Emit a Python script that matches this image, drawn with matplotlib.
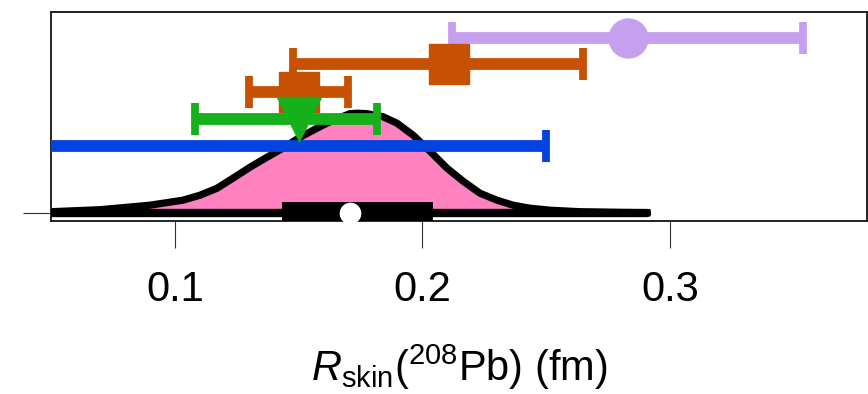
import matplotlib
matplotlib.use("Agg")
import matplotlib.pyplot as plt

plt.rcParams["font.family"] = ["Liberation Sans", "DejaVu Sans"]
plt.rcParams["mathtext.fontset"] = "custom"
plt.rcParams["mathtext.rm"] = "Liberation Sans"
plt.rcParams["mathtext.it"] = "Liberation Sans:italic"

# posterior density of the skin thickness (upper half of a violin)
dens_x = [0.030, 0.0499, 0.0697, 0.0899, 0.1032, 0.1101, 0.1170, 0.1234, 0.1303,
          0.1372, 0.1436, 0.1505, 0.1574, 0.1638, 0.1707, 0.1739, 0.1776, 0.1840,
          0.1897, 0.1962, 0.2030, 0.2099, 0.2164, 0.2232, 0.2301, 0.2366, 0.2434,
          0.2515, 0.2636, 0.2798, 0.2907]
dens_h = [0.0, 0.01, 0.03, 0.075, 0.125, 0.175, 0.245, 0.345, 0.455,
          0.555, 0.645, 0.755, 0.845, 0.925, 0.99, 0.995, 0.99, 0.96,
          0.895, 0.775, 0.615, 0.445, 0.315, 0.195, 0.125, 0.075, 0.045,
          0.025, 0.01, 0.003, 0.0]

# summary of the same posterior
median = 0.1707
q_lo, q_hi = 0.1434, 0.2041
whisk_lo, whisk_hi = 0.030, 0.2907

# measurements: row height, central value, lower, upper
blue_row, blue_lo, blue_hi = 0.667, -0.05, 0.250
green_row, green_val, green_lo, green_hi = 0.932, 0.150, 0.108, 0.1817
orange2_row, orange2_val, orange2_lo, orange2_hi = 1.208, 0.150, 0.1299, 0.170
orange1_row, orange1_val, orange1_lo, orange1_hi = 1.485, 0.2108, 0.1478, 0.2647
purple_row, purple_val, purple_lo, purple_hi = 1.742, 0.283, 0.2118, 0.3539

c_pink = "#ff81c0"
c_blue = "#0343df"
c_green = "#15b01a"
c_orange = "#c65102"
c_purple = "#c79fef"

fig = plt.figure(figsize=(8.68, 3.94), dpi=100)
ax = fig.add_axes([0.0588, 0.4391, 0.94, 0.5305])

ax.fill_between(dens_x, 0, dens_h, color=c_pink, lw=0, zorder=1)
ax.plot(dens_x, dens_h, color="black", lw=5.2, solid_joinstyle="round", zorder=2)
ax.plot([whisk_lo, whisk_hi], [0, 0], color="black", lw=6, solid_capstyle="round", zorder=3)
ax.plot([q_lo, q_hi], [0, 0], color="black", lw=15.8, solid_capstyle="butt", zorder=3)
ax.plot([median], [0], "o", color="white", ms=15.6, mew=0, zorder=4)

eb = dict(elinewidth=8.5, capsize=11.5, capthick=5.6)

ax.errorbar((blue_lo + blue_hi) / 2, blue_row, xerr=(blue_hi - blue_lo) / 2,
            fmt="none", ecolor=c_blue, zorder=5, **eb)
ax.errorbar(purple_val, purple_row,
            xerr=[[purple_val - purple_lo], [purple_hi - purple_val]],
            fmt="o", color=c_purple, ms=28, zorder=6, **eb)
ax.errorbar(orange1_val, orange1_row,
            xerr=[[orange1_val - orange1_lo], [orange1_hi - orange1_val]],
            fmt="s", color=c_orange, ms=29, zorder=7, **eb)
ax.errorbar(orange2_val, orange2_row,
            xerr=[[orange2_val - orange2_lo], [orange2_hi - orange2_val]],
            fmt="s", color=c_orange, ms=29, zorder=8, **eb)
ax.errorbar(green_val, green_row,
            xerr=[[green_val - green_lo], [green_hi - green_val]],
            fmt="v", color=c_green, ms=31, zorder=9, **eb)

ax.set_xlim(0.0499, 0.3796)
ax.set_ylim(-0.083, 2.007)
ax.set_xticks([0.1, 0.2, 0.3])
ax.set_xticklabels(["0.1", "0.2", "0.3"])
ax.set_yticks([0])
ax.set_yticklabels([""])
ax.tick_params(axis="x", direction="out", length=19.5, width=0.8, color="#333333",
               labelsize=30, pad=16)
ax.tick_params(axis="y", direction="out", length=20, width=0.8, color="#333333")
for sp in ax.spines.values():
    sp.set_linewidth(1.4)
    sp.set_color("#222222")

ax.set_xlabel(r"$\mathit{R}_{\mathrm{skin}}$($^{208}$Pb) (fm)", fontsize=30, labelpad=23)

fig.savefig("out.png", dpi=100)
